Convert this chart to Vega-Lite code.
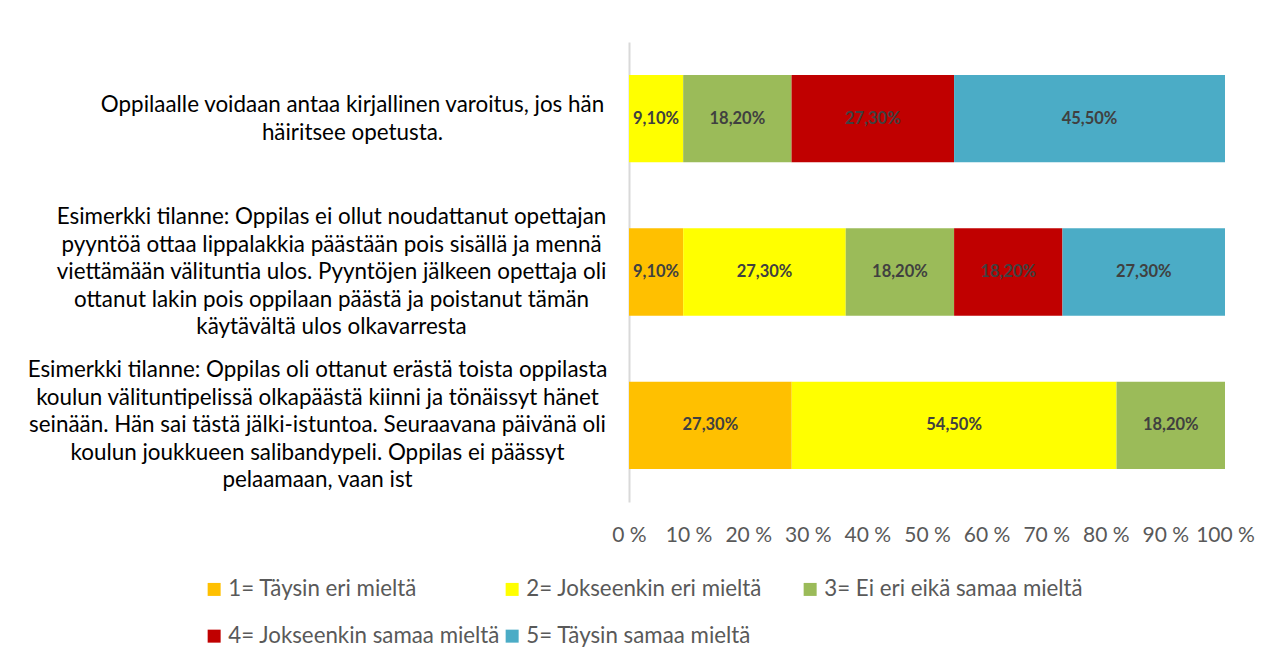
{
  "$schema": "https://vega.github.io/schema/vega-lite/v6.json",
  "autosize": {"type": "none"},
  "width": 596,
  "height": 460,
  "padding": {"left": 629, "top": 42, "right": 46, "bottom": 157},
  "background": "#ffffff",
  "config": {
    "view": {"stroke": null},
    "font": "Lato"
  },
  "data": {
    "values": [
      {"q": "Oppilaalle voidaan antaa kirjallinen varoitus, jos hän|häiritsee opetusta.", "cat": "2= Jokseenkin eri mieltä", "order": 2, "pct": 9.1},
      {"q": "Oppilaalle voidaan antaa kirjallinen varoitus, jos hän|häiritsee opetusta.", "cat": "3= Ei eri eikä samaa mieltä", "order": 3, "pct": 18.2},
      {"q": "Oppilaalle voidaan antaa kirjallinen varoitus, jos hän|häiritsee opetusta.", "cat": "4= Jokseenkin samaa mieltä", "order": 4, "pct": 27.3},
      {"q": "Oppilaalle voidaan antaa kirjallinen varoitus, jos hän|häiritsee opetusta.", "cat": "5= Täysin samaa mieltä", "order": 5, "pct": 45.5},
      {"q": "Esimerkki tilanne: Oppilas ei ollut noudattanut opettajan|pyyntöä ottaa lippalakkia päästään pois sisällä ja mennä|viettämään välituntia ulos. Pyyntöjen jälkeen opettaja oli|ottanut lakin pois oppilaan päästä ja poistanut tämän|käytävältä ulos olkavarresta", "cat": "1= Täysin eri mieltä", "order": 1, "pct": 9.1},
      {"q": "Esimerkki tilanne: Oppilas ei ollut noudattanut opettajan|pyyntöä ottaa lippalakkia päästään pois sisällä ja mennä|viettämään välituntia ulos. Pyyntöjen jälkeen opettaja oli|ottanut lakin pois oppilaan päästä ja poistanut tämän|käytävältä ulos olkavarresta", "cat": "2= Jokseenkin eri mieltä", "order": 2, "pct": 27.3},
      {"q": "Esimerkki tilanne: Oppilas ei ollut noudattanut opettajan|pyyntöä ottaa lippalakkia päästään pois sisällä ja mennä|viettämään välituntia ulos. Pyyntöjen jälkeen opettaja oli|ottanut lakin pois oppilaan päästä ja poistanut tämän|käytävältä ulos olkavarresta", "cat": "3= Ei eri eikä samaa mieltä", "order": 3, "pct": 18.2},
      {"q": "Esimerkki tilanne: Oppilas ei ollut noudattanut opettajan|pyyntöä ottaa lippalakkia päästään pois sisällä ja mennä|viettämään välituntia ulos. Pyyntöjen jälkeen opettaja oli|ottanut lakin pois oppilaan päästä ja poistanut tämän|käytävältä ulos olkavarresta", "cat": "4= Jokseenkin samaa mieltä", "order": 4, "pct": 18.2},
      {"q": "Esimerkki tilanne: Oppilas ei ollut noudattanut opettajan|pyyntöä ottaa lippalakkia päästään pois sisällä ja mennä|viettämään välituntia ulos. Pyyntöjen jälkeen opettaja oli|ottanut lakin pois oppilaan päästä ja poistanut tämän|käytävältä ulos olkavarresta", "cat": "5= Täysin samaa mieltä", "order": 5, "pct": 27.3},
      {"q": "Esimerkki tilanne: Oppilas oli ottanut erästä toista oppilasta|koulun välituntipelissä olkapäästä kiinni ja tönäissyt hänet|seinään. Hän sai tästä jälki-istuntoa. Seuraavana päivänä oli|koulun joukkueen salibandypeli. Oppilas ei päässyt|pelaamaan, vaan ist", "cat": "1= Täysin eri mieltä", "order": 1, "pct": 27.3},
      {"q": "Esimerkki tilanne: Oppilas oli ottanut erästä toista oppilasta|koulun välituntipelissä olkapäästä kiinni ja tönäissyt hänet|seinään. Hän sai tästä jälki-istuntoa. Seuraavana päivänä oli|koulun joukkueen salibandypeli. Oppilas ei päässyt|pelaamaan, vaan ist", "cat": "2= Jokseenkin eri mieltä", "order": 2, "pct": 54.5},
      {"q": "Esimerkki tilanne: Oppilas oli ottanut erästä toista oppilasta|koulun välituntipelissä olkapäästä kiinni ja tönäissyt hänet|seinään. Hän sai tästä jälki-istuntoa. Seuraavana päivänä oli|koulun joukkueen salibandypeli. Oppilas ei päässyt|pelaamaan, vaan ist", "cat": "3= Ei eri eikä samaa mieltä", "order": 3, "pct": 18.2}
    ]
  },
  "transform": [
    {"stack": "pct", "groupby": ["q"], "sort": [{"field": "order"}], "offset": "normalize", "as": ["x0", "x1"]},
    {"calculate": "(datum.x0 + datum.x1) / 2", "as": "xm"},
    {"calculate": "replace(format(datum.pct, '.2f'), '.', ',') + '%'", "as": "lbl"}
  ],
  "encoding": {
    "y": {
      "field": "q",
      "type": "nominal",
      "sort": null,
      "scale": {"paddingInner": 0.43, "paddingOuter": 0.215},
      "axis": {
        "title": null,
        "ticks": false,
        "tickSize": 0,
        "domainColor": "#D9D9D9",
        "domainWidth": 2,
        "labelExpr": "split(datum.label, '|')",
        "labelAlign": "center",
        "labelBaseline": "middle",
        "labelFont": "Lato",
        "labelFontSize": 22.4,
        "labelLineHeight": 27.5,
        "labelColor": "#000000",
        "labelLimit": 0,
        "labelPadding": {
          "condition": [
            {"test": "indexof(datum.value, 'Oppilaalle') == 0", "value": 277},
            {"test": "indexof(datum.value, 'Oppilas ei ollut') >= 0", "value": 298}
          ],
          "value": 312
        },
        "labelOffset": {
          "condition": [
            {"test": "indexof(datum.value, 'Oppilaalle') == 0", "value": -13.5}
          ],
          "value": -55
        }
      }
    }
  },
  "layer": [
    {
      "mark": {"type": "bar"},
      "encoding": {
        "x": {
          "field": "x0",
          "type": "quantitative",
          "scale": {"domain": [0, 1], "nice": false},
          "axis": {
            "title": null,
            "grid": false,
            "domain": false,
            "ticks": false,
            "values": [0, 0.1, 0.2, 0.3, 0.4, 0.5, 0.6, 0.7, 0.8, 0.9, 1],
            "labelExpr": "round(datum.value * 100) + ' %'",
            "labelFont": "Lato",
            "labelFontSize": 21,
            "labelColor": "#595959",
            "labelPadding": 33,
            "labelBaseline": "middle",
            "labelFlush": false,
            "labelOverlap": false
          }
        },
        "x2": {"field": "x1"},
        "color": {
          "field": "cat",
          "type": "nominal",
          "scale": {
            "domain": ["1= Täysin eri mieltä", "2= Jokseenkin eri mieltä", "3= Ei eri eikä samaa mieltä", "4= Jokseenkin samaa mieltä", "5= Täysin samaa mieltä"],
            "range": ["#FFC000", "#FFFF00", "#9BBB59", "#C00000", "#4BACC6"]
          },
          "legend": {
            "title": null,
            "orient": "none",
            "legendX": -426,
            "legendY": 536,
            "direction": "horizontal",
            "columns": 3,
            "gridAlign": "all",
            "columnPadding": -3,
            "rowPadding": 24,
            "symbolType": "square",
            "symbolSize": 169,
            "symbolStrokeWidth": 0,
            "labelFont": "Lato",
            "labelFontSize": 22.3,
            "labelColor": "#595959",
            "labelOffset": 3,
            "labelLimit": 0
          }
        }
      }
    },
    {
      "mark": {"type": "text", "fontWeight": "bold", "fontSize": 16.5, "color": "#404040", "font": "Lato", "baseline": "middle"},
      "encoding": {
        "x": {"field": "xm", "type": "quantitative"},
        "text": {"field": "lbl"}
      }
    }
  ]
}
